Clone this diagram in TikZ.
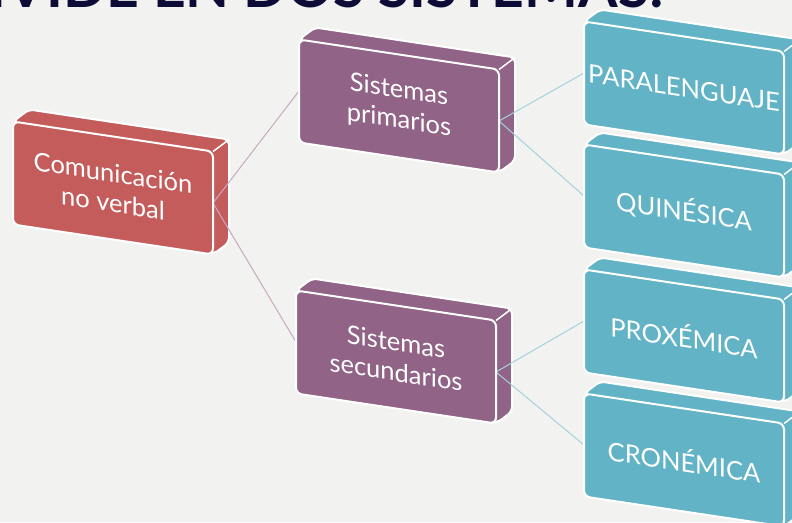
\documentclass[tikz,border=0pt]{standalone}
\usepackage{fontspec}
\setmainfont{Lato}
\usetikzlibrary{calc}

\definecolor{fondo}{HTML}{F2F2F0}
\definecolor{rojo}{HTML}{C55C5C}
\definecolor{morado}{HTML}{916386}
\definecolor{turquesa}{HTML}{62B3C6}
\definecolor{titulo}{HTML}{0C0C36}
\definecolor{lineamorada}{HTML}{C8AABF}
\definecolor{lineaazul}{HTML}{A3D2DD}

\pgfdeclarelayer{capafondo}
\pgfdeclarelayer{capalineas}
\pgfsetlayers{capafondo,capalineas,main}

\tikzset{
  caja/.style={rectangle, rounded corners=6pt, draw=white, line width=2pt, fill=#1,
    minimum width=200pt, minimum height=103pt, inner sep=2pt, outer sep=0pt,
    yslant=-0.15, text=white, align=center, font=\fontsize{25.5}{30}\selectfont},
  conector/.style={#1, line width=1pt},
}

\begin{document}
\begin{tikzpicture}[x=1pt,y=1pt]
\useasboundingbox (0,0) rectangle (792,-522);
\begin{pgfonlayer}{capafondo}
  \fill[fondo] (0,0) rectangle (792,-522);
\end{pgfonlayer}

% titulo cortado arriba
\node[anchor=base east, inner sep=0pt, text=titulo,
  font=\fontsize{57}{57}\selectfont\bfseries] (tit) at (664,-8) {DIVIDE EN DOS SISTEMAS:};

% cajas
\node[caja=rojo] (cnv) at (113,-188) {Comunicación\\no verbal};
\node[caja=morado] (prim) at (399,-106) {Sistemas\\primarios};
\node[caja=morado] (sec) at (396,-357) {Sistemas\\secundarios};
\node[caja=turquesa] (para) at (684,-88) {PARALENGUAJE};
\node[caja=turquesa] (quin) at (684,-211) {QUINÉSICA};
\node[caja=turquesa] (prox) at (684,-336) {PROXÉMICA};
\node[caja=turquesa] (cron) at (684,-460) {CRONÉMICA};

% volumen de las cajas
\begin{pgfonlayer}{capafondo}
\foreach \n/\c in {cnv/rojo, prim/morado, sec/morado, para/turquesa,
                   quin/turquesa, prox/turquesa, cron/turquesa}{
  \filldraw[fill=\c, draw=white, line width=2pt, rounded corners=5pt]
    (\n.north west) -- ++(16,12) -- ($(\n.north east)+(16,12)$)
    -- ($(\n.south east)+(16,12)$) -- (\n.south east) -- cycle;
  \draw[white, line width=1.5pt] (\n.north east) -- ++(16,12);
}
\end{pgfonlayer}

% conectores
\begin{pgfonlayer}{capalineas}
\draw[conector=lineamorada] (cnv.east) -- (prim.west);
\draw[conector=lineamorada] (cnv.east) -- (sec.west);
\draw[conector=lineaazul] (prim.east) -- (para.west);
\draw[conector=lineaazul] (prim.east) -- (quin.west);
\draw[conector=lineaazul] (sec.east) -- (prox.west);
\draw[conector=lineaazul] (sec.east) -- (cron.west);
\end{pgfonlayer}
\end{tikzpicture}
\end{document}
